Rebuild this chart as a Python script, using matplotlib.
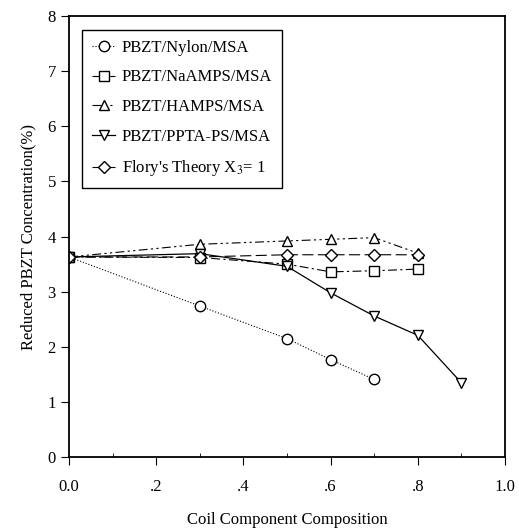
import numpy as np
import matplotlib
matplotlib.use("Agg")
import matplotlib.pyplot as plt

plt.rcParams['font.family'] = ['Liberation Serif', 'DejaVu Serif']
plt.rcParams['mathtext.fontset'] = 'stix'

# data
x_nylon = [0.0, 0.3, 0.5, 0.6, 0.7]
y_nylon = [3.63, 2.74, 2.15, 1.77, 1.41]

x_naamps = [0.0, 0.3, 0.5, 0.6, 0.7, 0.8]
y_naamps = [3.63, 3.62, 3.50, 3.36, 3.38, 3.41]

x_hamps = [0.0, 0.3, 0.5, 0.6, 0.7, 0.8]
y_hamps = [3.63, 3.86, 3.92, 3.95, 3.98, 3.70]

x_ppta = [0.0, 0.3, 0.5, 0.6, 0.7, 0.8, 0.9]
y_ppta = [3.63, 3.69, 3.46, 2.98, 2.56, 2.21, 1.35]

x_flory = [0.0, 0.3, 0.5, 0.6, 0.7, 0.8]
y_flory = [3.63, 3.63, 3.67, 3.67, 3.67, 3.67]

labels = ['PBZT/Nylon/MSA', 'PBZT/NaAMPS/MSA', 'PBZT/HAMPS/MSA',
          'PBZT/PPTA-PS/MSA', "Flory's Theory X$_3$= 1"]

fig = plt.figure(figsize=(5.19, 5.28), dpi=100)
ax = fig.add_axes([0.133, 0.134, 0.840, 0.836])

mk = dict(color='black', markerfacecolor='white', markeredgecolor='black',
          markersize=7.5, markeredgewidth=1.0)

ax.plot(x_nylon, y_nylon, linestyle=':', linewidth=0.8, marker='o', label=labels[0], **mk)
ax.plot(x_naamps, y_naamps, linestyle=(0, (8, 3, 2, 3)), linewidth=0.8, marker='s',
        label=labels[1], **mk)
ax.plot(x_hamps, y_hamps, linestyle=(0, (8, 3, 2, 3, 2, 3)), linewidth=0.8, marker='^',
        label=labels[2], **mk)
ax.plot(x_ppta, y_ppta, linestyle='-', linewidth=0.9, marker='v', label=labels[3], **mk)
ax.plot(x_flory, y_flory, linestyle=(0, (10, 4)), linewidth=0.8, marker='D',
        label=labels[4], color='black', markerfacecolor='white', markeredgecolor='black',
        markersize=6.5, markeredgewidth=1.0)

ax.set_xlim(0, 1.0)
ax.set_ylim(0, 8)
ax.set_xticks([0, 0.2, 0.4, 0.6, 0.8, 1.0])
ax.set_xticklabels(['0.0', '.2', '.4', '.6', '.8', '1.0'])
ax.set_xticks([0.1, 0.3, 0.5, 0.7, 0.9], minor=True)
ax.set_yticks(range(0, 9))
ax.tick_params(axis='both', which='major', direction='out', length=6, labelsize=12)
ax.tick_params(axis='x', which='minor', direction='in', length=3)
ax.tick_params(axis='x', which='major', pad=10)

for s in ax.spines.values():
    s.set_linewidth(1.3)

ax.set_xlabel('Coil Component Composition', fontsize=12, labelpad=12)
ax.set_ylabel('Reduced PBZT Concentration(%)', fontsize=12, labelpad=8)

leg = ax.legend(loc='upper left', bbox_to_anchor=(0.022, 0.976), fontsize=12,
                fancybox=False, edgecolor='black', framealpha=1,
                handlelength=1.4, labelspacing=0.82, borderpad=0.6,
                handletextpad=0.4, borderaxespad=0.2)
leg.get_frame().set_linewidth(1.0)

fig.savefig('out.png', dpi=100)
